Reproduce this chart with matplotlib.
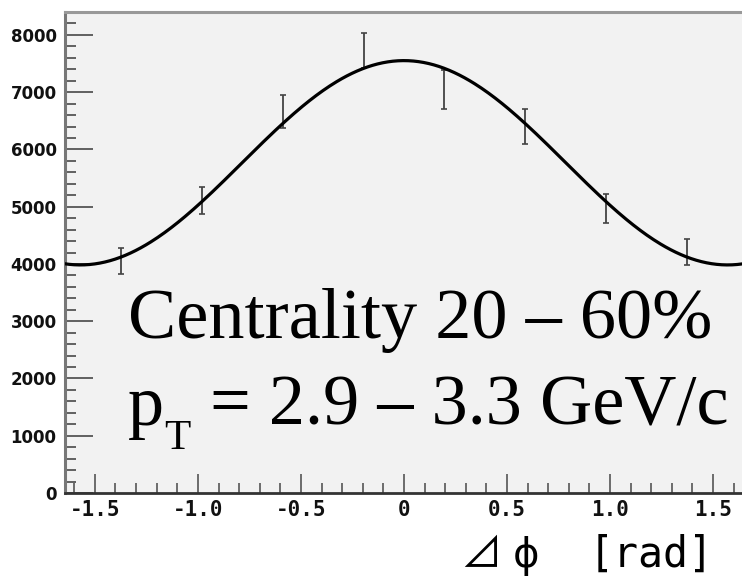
import numpy as np
import matplotlib
matplotlib.use("Agg")
import matplotlib.pyplot as plt
from matplotlib.ticker import MultipleLocator, FixedLocator

# ── Data ───────────────────────────────────────────────────────────────────────
dphi   = [-1.374, -0.982, -0.589, -0.196, 0.196, 0.589, 0.982, 1.374]
counts = [4047, 5109, 6664, 7729, 7048, 6402, 4969, 4210]
errs   = [227, 241, 288, 305, 340, 300, 250, 230]

# fit: const + amp * cos(2 dphi)
fit_const = 5767
fit_amp   = 1784

xticks      = [-1.5, -1.0, -0.5, 0.0, 0.5, 1.0, 1.5]
xticklabels = ["-1.5", "-1.0", "-0.5", "0", "0.5", "1.0", "1.5"]
yticks      = [0, 1000, 2000, 3000, 4000, 5000, 6000, 7000, 8000]

fig = plt.figure(figsize=(7.42, 5.76), dpi=100)
ax = fig.add_axes([65 / 742, 83 / 576, 680 / 742, 481 / 576])
ax.set_facecolor("#f2f2f2")

xf = np.linspace(-1.65, 1.65, 400)
ax.plot(xf, fit_const + fit_amp * np.cos(2 * xf), color="black", lw=2.3, zorder=3)
ax.errorbar(dphi, counts, yerr=errs, fmt="none", ecolor="#444444",
            elinewidth=1.3, capsize=2.5, capthick=1.2, zorder=2)

ax.set_xlim(-1.645, 1.655)
ax.set_ylim(0, 8400)

ax.xaxis.set_major_locator(FixedLocator(xticks))
ax.set_xticklabels(xticklabels, family="DejaVu Sans Mono", fontweight="bold",
                   fontsize=15, color="#111111")
ax.xaxis.set_minor_locator(MultipleLocator(0.1))
ax.yaxis.set_major_locator(FixedLocator(yticks))
ax.yaxis.set_minor_locator(MultipleLocator(200))
ax.set_yticklabels([str(v) for v in yticks], fontweight="bold", fontsize=12,
                   color="#111111")

ax.tick_params(axis="x", which="major", direction="in", length=14, width=1.2,
               color="#555555", pad=5)
ax.tick_params(axis="x", which="minor", direction="in", length=7, width=1.2,
               color="#555555")
ax.tick_params(axis="y", which="major", direction="in", length=20, width=1.3,
               color="#555555", pad=6)
ax.tick_params(axis="y", which="minor", direction="in", length=8, width=1.3,
               color="#555555")

ax.spines["left"].set_color("#777777")
ax.spines["left"].set_linewidth(2.2)
ax.spines["bottom"].set_color("#333333")
ax.spines["bottom"].set_linewidth(2.0)
ax.spines["top"].set_color("#999999")
ax.spines["top"].set_linewidth(2.2)
ax.spines["right"].set_visible(False)

# ── Annotations ────────────────────────────────────────────────────────────────
W, H = 742, 576
serif = dict(family="Liberation Serif", va="baseline", ha="left", color="black")
fig.text(128 / W, 1 - 338 / H, "Centrality 20 – 60%", fontsize=52, **serif)
fig.text(128 / W, 1 - 425 / H, "p", fontsize=52, **serif)
fig.text(164 / W, 1 - 449 / H, "T", fontsize=31, **serif)
fig.text(210 / W, 1 - 425 / H, "= 2.9 – 3.3 GeV/c", fontsize=52, **serif)

# x axis title
fig.text(460 / W, 1 - 567 / H, "⊿", family=["Noto Sans CJK JP", "DejaVu Sans"],
         fontsize=30, ha="left", va="baseline")
fig.text(513 / W, 1 - 567 / H, "ϕ", family="DejaVu Sans", fontsize=29,
         ha="left", va="baseline")
fig.text(714 / W, 1 - 567 / H, "[rad]", family="DejaVu Sans Mono", fontsize=30,
         ha="right", va="baseline")

fig.savefig("out.png", dpi=100)
